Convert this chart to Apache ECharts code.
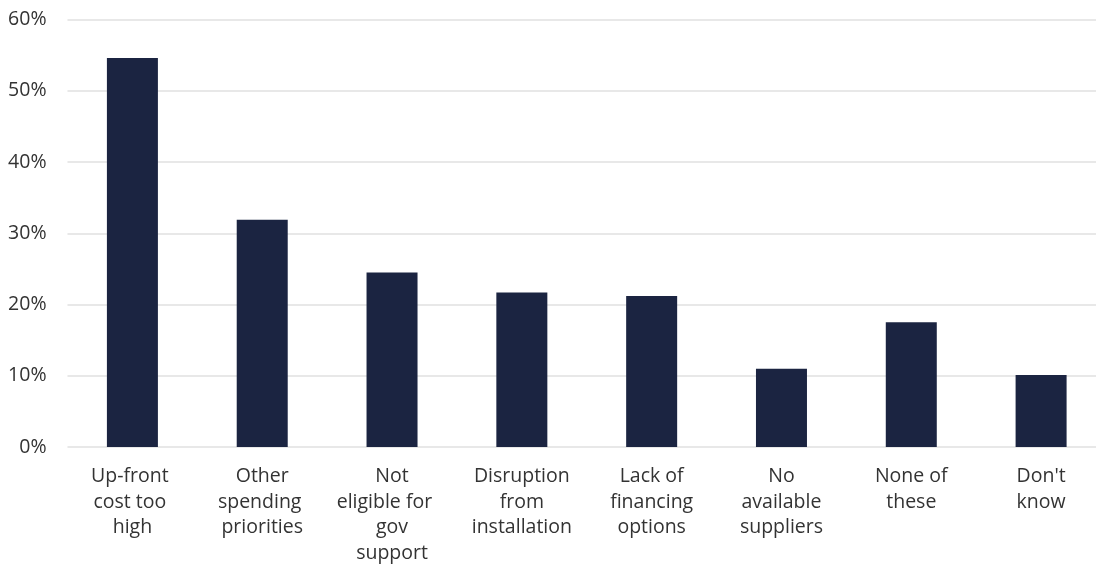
<!DOCTYPE html>
<html>
<head>
<meta charset="utf-8">
<script src="https://cdn.jsdelivr.net/npm/echarts@6/dist/echarts.min.js"></script>
<style>
  html, body { margin: 0; padding: 0; background: #fff; overflow: hidden; }
  #chart { width: 1110px; height: 566px; }
</style>
</head>
<body>
<div id="chart"></div>
<script>
const categories = [
  'Up-front \ncost too \nhigh',
  'Other\nspending \npriorities',
  'Not\neligible for   \ngov\nsupport',
  'Disruption\nfrom\ninstallation',
  'Lack of\nfinancing\noptions',
  'No\navailable\nsuppliers',
  'None of\nthese',
  "Don't\nknow"
]
const shares = [54.6, 31.9, 24.5, 21.7, 21.2, 11.0, 17.5, 10.1]
const yTicks = [0, 10, 20, 30, 40, 50, 60]

const myChart = echarts.init(document.getElementById('chart'))
const font = "'Open Sans', 'Noto Sans', sans-serif"

// plot runs a little past the right edge of the window, like the original
const option = {
  animation: false,
  grid: {
    left: 67.5,
    width: 1038.5,
    top: 19.5,
    height: 428.5,
    containLabel: false
  },
  xAxis: {
    type: 'category',
    data: categories,
    axisLine: { show: false },
    axisTick: { show: false },
    axisLabel: {
      interval: 0,
      margin: 17,
      color: '#333',
      fontFamily: font,
      fontSize: 19.5,
      lineHeight: 25.5
    }
  },
  yAxis: {
    type: 'value',
    min: yTicks[0],
    max: yTicks[yTicks.length - 1],
    interval: 10,
    axisLine: { show: false },
    axisTick: { show: false },
    splitLine: { lineStyle: { color: '#e0e0e0', width: 1.5 } },
    axisLabel: {
      margin: 21,
      color: '#333',
      fontFamily: font,
      fontSize: 19.5,
      formatter: '{value}%'
    }
  },
  series: [
    {
      type: 'bar',
      data: shares,
      barWidth: 51,
      itemStyle: { color: '#1b2441' }
    }
  ]
}

myChart.setOption(option)
</script>
</body>
</html>
